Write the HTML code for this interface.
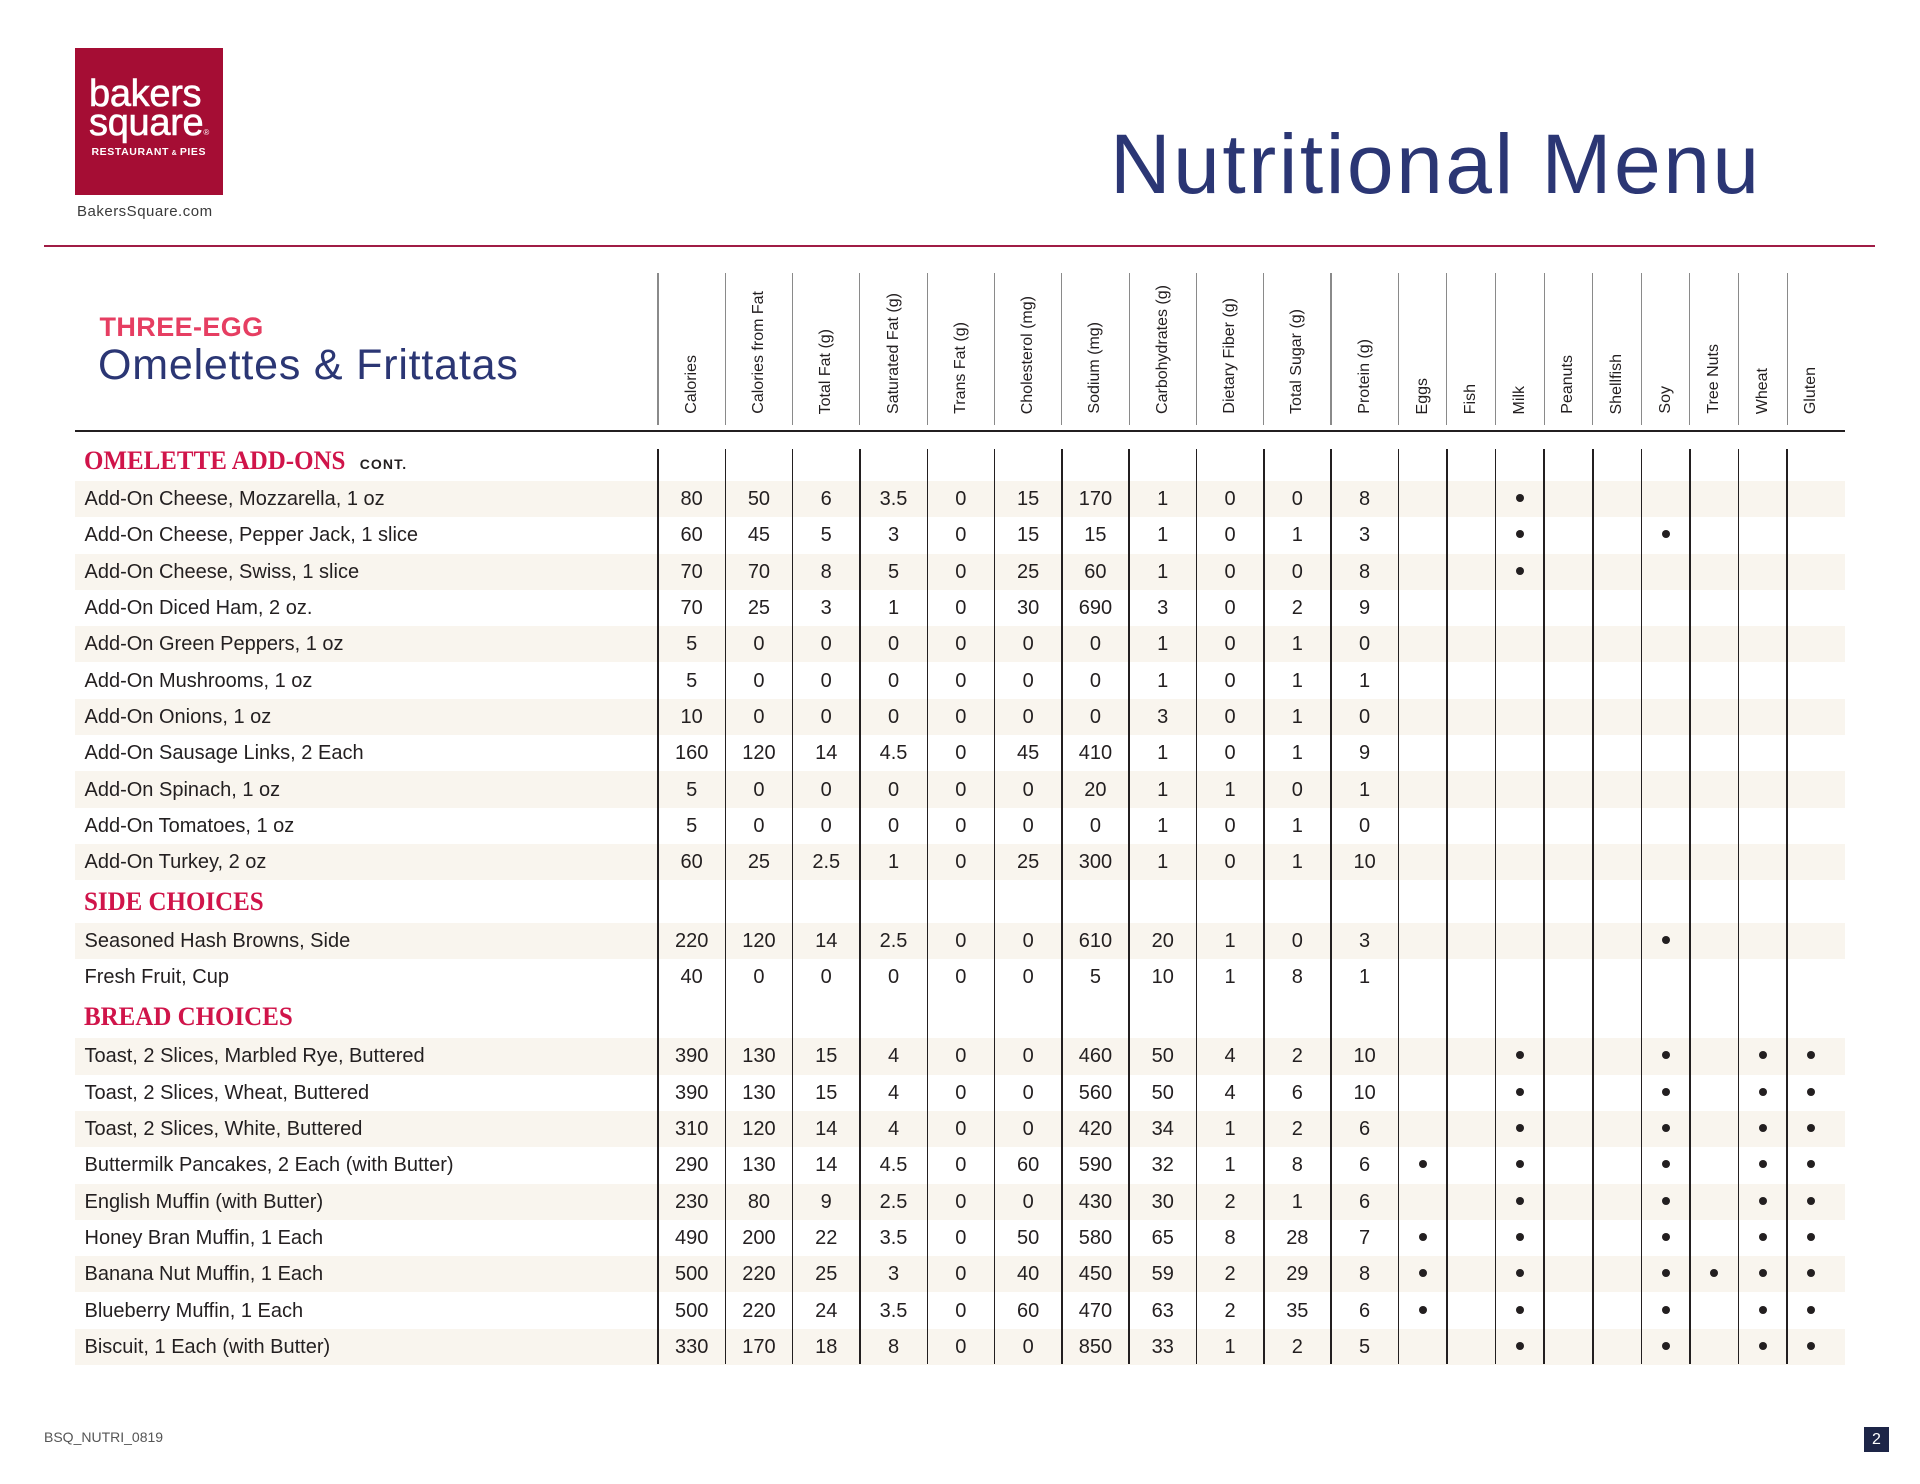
<!DOCTYPE html>
<html>
<head>
<meta charset="utf-8">
<style>
*{margin:0;padding:0;box-sizing:content-box}
html,body{width:1920px;height:1484px;background:#fff;overflow:hidden}
body{position:relative;font-family:"Liberation Sans",Arial,sans-serif;color:#231f20}
.abs{position:absolute;white-space:nowrap;line-height:1}
.r{position:absolute;left:75px;width:1770px;height:36.3px;display:flex;align-items:center;font-size:20px;line-height:22px;color:#231f20}
.s{background:#f9f5ee}
.r i{font-style:normal;width:573.5px;padding-left:9.5px;flex:none;white-space:nowrap}
.r b{font-weight:normal;width:67.3px;text-align:center;flex:none}
.r u{text-decoration:none;width:48.6px;flex:none;height:100%;display:flex;align-items:center;justify-content:center}
.r u em{display:block;width:8px;height:8px;border-radius:50%;background:#231f20;margin-top:-2px}
.v{position:absolute;width:1.5px;background:#231f20;top:449px;height:915px}
.hv{position:absolute;width:1.2px;background:#8a8a8a;top:273px;height:152px}
.h{position:absolute;top:279px;height:135px;display:flex;justify-content:center;align-items:flex-end}
.h span{writing-mode:vertical-rl;transform:rotate(180deg);font-size:16px;line-height:16px;white-space:nowrap;color:#231f20}
.sec{position:absolute;left:83.5px;font-family:"Liberation Serif",serif;font-weight:bold;font-size:26px;line-height:1;color:#d0144a;transform:scaleX(0.96);transform-origin:left top;white-space:nowrap}
</style>
</head>
<body>

<!-- Logo -->
<div style="position:absolute;left:75px;top:48px;width:148px;height:147px;background:#a50d34"></div>
<div class="abs" style="left:89px;top:74.8px;font-size:38px;color:#fff;-webkit-text-stroke:0.6px #fff;letter-spacing:-0.3px">bakers</div>
<div class="abs" style="left:89px;top:103.8px;font-size:38px;color:#fff;-webkit-text-stroke:0.6px #fff;letter-spacing:-0.3px">square<span style="font-size:8px;-webkit-text-stroke:0">®</span></div>
<div class="abs" style="left:91.5px;top:146.8px;font-size:10.5px;font-weight:bold;color:#fff;letter-spacing:0.6px">RESTAURANT<span style="font-size:7px"> &amp; </span>PIES</div>
<div class="abs" style="left:77px;top:204px;font-size:15px;color:#3a3a3a;letter-spacing:0.5px">BakersSquare.com</div>

<!-- Title -->
<div class="abs" style="left:1110px;top:121.6px;font-size:84px;color:#2b3674;letter-spacing:2.5px">Nutritional Menu</div>

<!-- Red rule -->
<div style="position:absolute;left:44px;top:244.5px;width:1831px;height:2.5px;background:#a01c45"></div>

<!-- Section heading -->
<div class="abs" style="left:99.5px;top:314.4px;font-size:27px;font-weight:bold;color:#e63e62;letter-spacing:0.4px">THREE-EGG</div>
<div class="abs" style="left:98px;top:343.6px;font-size:43px;color:#2b3674;letter-spacing:0.8px">Omelettes &amp; Frittatas</div>

<!-- Header vertical lines -->
<div class="hv" style="left:657.4px"></div>
<div class="hv" style="left:724.7px"></div>
<div class="hv" style="left:792px"></div>
<div class="hv" style="left:859.3px"></div>
<div class="hv" style="left:926.6px"></div>
<div class="hv" style="left:993.9px"></div>
<div class="hv" style="left:1061.2px"></div>
<div class="hv" style="left:1128.5px"></div>
<div class="hv" style="left:1195.8px"></div>
<div class="hv" style="left:1263.1px"></div>
<div class="hv" style="left:1330.4px"></div>
<div class="hv" style="left:1397.7px"></div>
<div class="hv" style="left:1446.3px"></div>
<div class="hv" style="left:1494.9px"></div>
<div class="hv" style="left:1543.5px"></div>
<div class="hv" style="left:1592.1px"></div>
<div class="hv" style="left:1640.7px"></div>
<div class="hv" style="left:1689.3px"></div>
<div class="hv" style="left:1737.9px"></div>
<div class="hv" style="left:1786.5px"></div>

<!-- Header labels -->
<div class="h" style="left:658px;width:67.3px"><span>Calories</span></div>
<div class="h" style="left:725.3px;width:67.3px"><span>Calories from Fat</span></div>
<div class="h" style="left:792.6px;width:67.3px"><span>Total Fat (g)</span></div>
<div class="h" style="left:859.9px;width:67.3px"><span>Saturated Fat (g)</span></div>
<div class="h" style="left:927.2px;width:67.3px"><span>Trans Fat (g)</span></div>
<div class="h" style="left:994.5px;width:67.3px"><span>Cholesterol (mg)</span></div>
<div class="h" style="left:1061.8px;width:67.3px"><span>Sodium (mg)</span></div>
<div class="h" style="left:1129.1px;width:67.3px"><span>Carbohydrates (g)</span></div>
<div class="h" style="left:1196.4px;width:67.3px"><span>Dietary Fiber (g)</span></div>
<div class="h" style="left:1263.7px;width:67.3px"><span>Total Sugar (g)</span></div>
<div class="h" style="left:1331px;width:67.3px"><span>Protein (g)</span></div>
<div class="h" style="left:1398.3px;width:48.6px"><span>Eggs</span></div>
<div class="h" style="left:1446.9px;width:48.6px"><span>Fish</span></div>
<div class="h" style="left:1495.5px;width:48.6px"><span>Milk</span></div>
<div class="h" style="left:1544.1px;width:48.6px"><span>Peanuts</span></div>
<div class="h" style="left:1592.7px;width:48.6px"><span>Shellfish</span></div>
<div class="h" style="left:1641.3px;width:48.6px"><span>Soy</span></div>
<div class="h" style="left:1689.9px;width:48.6px"><span>Tree Nuts</span></div>
<div class="h" style="left:1738.5px;width:48.6px"><span>Wheat</span></div>
<div class="h" style="left:1787.1px;width:48.6px"><span>Gluten</span></div>

<!-- Header bottom rule -->
<div style="position:absolute;left:75px;top:429.5px;width:1770px;height:2.5px;background:#231f20"></div>

<!-- Section: Omelette add-ons -->
<div class="sec" style="top:447.5px">OMELETTE ADD-ONS</div>
<div class="abs" style="left:359.7px;top:457.4px;font-size:14px;font-weight:bold;letter-spacing:1.1px;color:#231f20">CONT.</div>

<div class="r s" style="top:481px"><i>Add-On Cheese, Mozzarella, 1 oz</i><b>80</b><b>50</b><b>6</b><b>3.5</b><b>0</b><b>15</b><b>170</b><b>1</b><b>0</b><b>0</b><b>8</b><u></u><u></u><u><em></em></u><u></u><u></u><u></u><u></u><u></u><u></u></div>
<div class="r" style="top:517.3px"><i>Add-On Cheese, Pepper Jack, 1 slice</i><b>60</b><b>45</b><b>5</b><b>3</b><b>0</b><b>15</b><b>15</b><b>1</b><b>0</b><b>1</b><b>3</b><u></u><u></u><u><em></em></u><u></u><u></u><u><em></em></u><u></u><u></u><u></u></div>
<div class="r s" style="top:553.6px"><i>Add-On Cheese, Swiss, 1 slice</i><b>70</b><b>70</b><b>8</b><b>5</b><b>0</b><b>25</b><b>60</b><b>1</b><b>0</b><b>0</b><b>8</b><u></u><u></u><u><em></em></u><u></u><u></u><u></u><u></u><u></u><u></u></div>
<div class="r" style="top:589.9px"><i>Add-On Diced Ham, 2 oz.</i><b>70</b><b>25</b><b>3</b><b>1</b><b>0</b><b>30</b><b>690</b><b>3</b><b>0</b><b>2</b><b>9</b></div>
<div class="r s" style="top:626.2px"><i>Add-On Green Peppers, 1 oz</i><b>5</b><b>0</b><b>0</b><b>0</b><b>0</b><b>0</b><b>0</b><b>1</b><b>0</b><b>1</b><b>0</b></div>
<div class="r" style="top:662.5px"><i>Add-On Mushrooms, 1 oz</i><b>5</b><b>0</b><b>0</b><b>0</b><b>0</b><b>0</b><b>0</b><b>1</b><b>0</b><b>1</b><b>1</b></div>
<div class="r s" style="top:698.8px"><i>Add-On Onions, 1 oz</i><b>10</b><b>0</b><b>0</b><b>0</b><b>0</b><b>0</b><b>0</b><b>3</b><b>0</b><b>1</b><b>0</b></div>
<div class="r" style="top:735.1px"><i>Add-On Sausage Links, 2 Each</i><b>160</b><b>120</b><b>14</b><b>4.5</b><b>0</b><b>45</b><b>410</b><b>1</b><b>0</b><b>1</b><b>9</b></div>
<div class="r s" style="top:771.4px"><i>Add-On Spinach, 1 oz</i><b>5</b><b>0</b><b>0</b><b>0</b><b>0</b><b>0</b><b>20</b><b>1</b><b>1</b><b>0</b><b>1</b></div>
<div class="r" style="top:807.7px"><i>Add-On Tomatoes, 1 oz</i><b>5</b><b>0</b><b>0</b><b>0</b><b>0</b><b>0</b><b>0</b><b>1</b><b>0</b><b>1</b><b>0</b></div>
<div class="r s" style="top:844px"><i>Add-On Turkey, 2 oz</i><b>60</b><b>25</b><b>2.5</b><b>1</b><b>0</b><b>25</b><b>300</b><b>1</b><b>0</b><b>1</b><b>10</b></div>

<!-- Section: Side choices -->
<div class="sec" style="top:889px">SIDE CHOICES</div>
<div class="r s" style="top:922.7px"><i>Seasoned Hash Browns, Side</i><b>220</b><b>120</b><b>14</b><b>2.5</b><b>0</b><b>0</b><b>610</b><b>20</b><b>1</b><b>0</b><b>3</b><u></u><u></u><u></u><u></u><u></u><u><em></em></u><u></u><u></u><u></u></div>
<div class="r" style="top:959px"><i>Fresh Fruit, Cup</i><b>40</b><b>0</b><b>0</b><b>0</b><b>0</b><b>0</b><b>5</b><b>10</b><b>1</b><b>8</b><b>1</b></div>

<!-- Section: Bread choices -->
<div class="sec" style="top:1004.2px">BREAD CHOICES</div>
<div class="r s" style="top:1038.3px"><i>Toast, 2 Slices, Marbled Rye, Buttered</i><b>390</b><b>130</b><b>15</b><b>4</b><b>0</b><b>0</b><b>460</b><b>50</b><b>4</b><b>2</b><b>10</b><u></u><u></u><u><em></em></u><u></u><u></u><u><em></em></u><u></u><u><em></em></u><u><em></em></u></div>
<div class="r" style="top:1074.6px"><i>Toast, 2 Slices, Wheat, Buttered</i><b>390</b><b>130</b><b>15</b><b>4</b><b>0</b><b>0</b><b>560</b><b>50</b><b>4</b><b>6</b><b>10</b><u></u><u></u><u><em></em></u><u></u><u></u><u><em></em></u><u></u><u><em></em></u><u><em></em></u></div>
<div class="r s" style="top:1110.9px"><i>Toast, 2 Slices, White, Buttered</i><b>310</b><b>120</b><b>14</b><b>4</b><b>0</b><b>0</b><b>420</b><b>34</b><b>1</b><b>2</b><b>6</b><u></u><u></u><u><em></em></u><u></u><u></u><u><em></em></u><u></u><u><em></em></u><u><em></em></u></div>
<div class="r" style="top:1147.2px"><i>Buttermilk Pancakes, 2 Each (with Butter)</i><b>290</b><b>130</b><b>14</b><b>4.5</b><b>0</b><b>60</b><b>590</b><b>32</b><b>1</b><b>8</b><b>6</b><u><em></em></u><u></u><u><em></em></u><u></u><u></u><u><em></em></u><u></u><u><em></em></u><u><em></em></u></div>
<div class="r s" style="top:1183.5px"><i>English Muffin (with Butter)</i><b>230</b><b>80</b><b>9</b><b>2.5</b><b>0</b><b>0</b><b>430</b><b>30</b><b>2</b><b>1</b><b>6</b><u></u><u></u><u><em></em></u><u></u><u></u><u><em></em></u><u></u><u><em></em></u><u><em></em></u></div>
<div class="r" style="top:1219.8px"><i>Honey Bran Muffin, 1 Each</i><b>490</b><b>200</b><b>22</b><b>3.5</b><b>0</b><b>50</b><b>580</b><b>65</b><b>8</b><b>28</b><b>7</b><u><em></em></u><u></u><u><em></em></u><u></u><u></u><u><em></em></u><u></u><u><em></em></u><u><em></em></u></div>
<div class="r s" style="top:1256.1px"><i>Banana Nut Muffin, 1 Each</i><b>500</b><b>220</b><b>25</b><b>3</b><b>0</b><b>40</b><b>450</b><b>59</b><b>2</b><b>29</b><b>8</b><u><em></em></u><u></u><u><em></em></u><u></u><u></u><u><em></em></u><u><em></em></u><u><em></em></u><u><em></em></u></div>
<div class="r" style="top:1292.4px"><i>Blueberry Muffin, 1 Each</i><b>500</b><b>220</b><b>24</b><b>3.5</b><b>0</b><b>60</b><b>470</b><b>63</b><b>2</b><b>35</b><b>6</b><u><em></em></u><u></u><u><em></em></u><u></u><u></u><u><em></em></u><u></u><u><em></em></u><u><em></em></u></div>
<div class="r s" style="top:1328.7px"><i>Biscuit, 1 Each (with Butter)</i><b>330</b><b>170</b><b>18</b><b>8</b><b>0</b><b>0</b><b>850</b><b>33</b><b>1</b><b>2</b><b>5</b><u></u><u></u><u><em></em></u><u></u><u></u><u><em></em></u><u></u><u><em></em></u><u><em></em></u></div>

<!-- Body vertical lines -->
<div class="v" style="left:657.3px"></div>
<div class="v" style="left:724.6px"></div>
<div class="v" style="left:791.9px"></div>
<div class="v" style="left:859.2px"></div>
<div class="v" style="left:926.5px"></div>
<div class="v" style="left:993.8px"></div>
<div class="v" style="left:1061.1px"></div>
<div class="v" style="left:1128.4px"></div>
<div class="v" style="left:1195.7px"></div>
<div class="v" style="left:1263px"></div>
<div class="v" style="left:1330.3px"></div>
<div class="v" style="left:1397.6px"></div>
<div class="v" style="left:1446.2px"></div>
<div class="v" style="left:1494.8px"></div>
<div class="v" style="left:1543.4px"></div>
<div class="v" style="left:1592px"></div>
<div class="v" style="left:1640.6px"></div>
<div class="v" style="left:1689.2px"></div>
<div class="v" style="left:1737.8px"></div>
<div class="v" style="left:1786.4px"></div>

<!-- Footer -->
<div class="abs" style="left:44px;top:1430.4px;font-size:14px;color:#555">BSQ_NUTRI_0819</div>
<div style="position:absolute;left:1864px;top:1427px;width:25px;height:25px;background:#1d2547;color:#fff;font-size:16px;line-height:25px;text-align:center">2</div>

</body>
</html>
